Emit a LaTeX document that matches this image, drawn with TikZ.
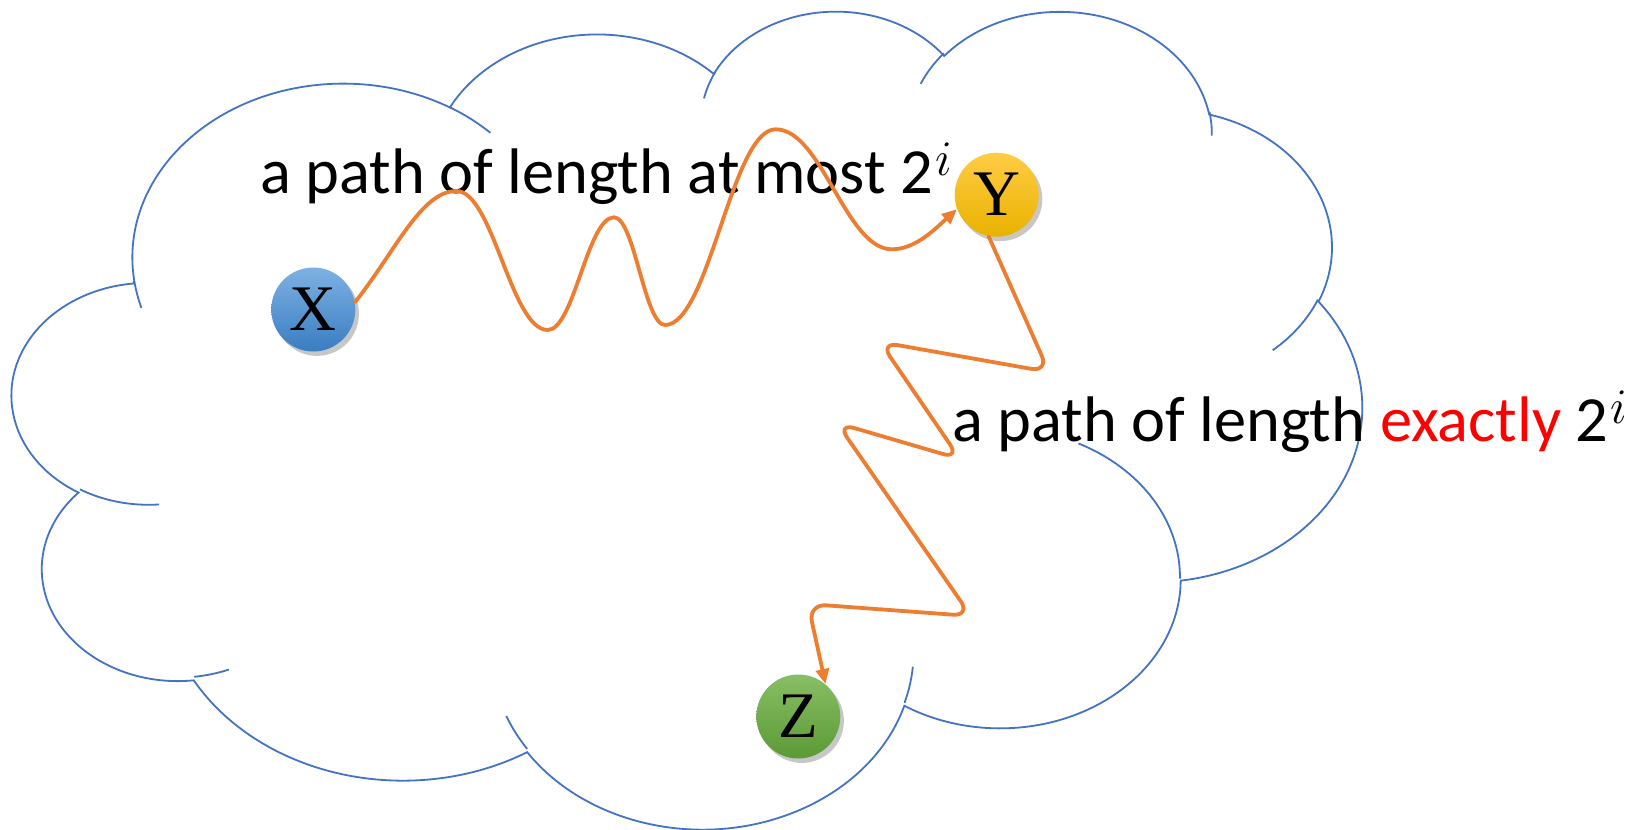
\documentclass[tikz,border=0pt]{standalone}
\usepackage{fontspec}
\setmainfont{Carlito}
\newfontfamily\serifletter{Liberation Serif}
\usetikzlibrary{arrows.meta,shadows}
\definecolor{cloudblue}{HTML}{4472C4}
\definecolor{pathorange}{HTML}{ED7D31}
\definecolor{xtop}{HTML}{7DB1E3}
\definecolor{xbot}{HTML}{3A7DC2}
\definecolor{ytop}{HTML}{FFCC44}
\definecolor{ybot}{HTML}{E9B200}
\definecolor{ztop}{HTML}{88BE66}
\definecolor{zbot}{HTML}{5C9A35}
% OOXML arcTo (visual angles) -> parametric start / delta angle
\newcommand\defarc[5]{%
  \pgfmathsetmacro\tmpa{atan2((#2)*sin(#4),(#3)*cos(#4))}%
  \pgfmathsetmacro\tmpb{atan2((#2)*sin((#4)+(#5)),(#3)*cos((#4)+(#5)))}%
  \pgfmathsetmacro\tmpd{mod(\tmpb-\tmpa+720,360)}%
  \expandafter\xdef\csname cst#1\endcsname{\tmpa}%
  \expandafter\xdef\csname cdl#1\endcsname{\tmpd}}
\defarc{A}{675.3}{919.0}{-190.48748}{123.78053}
\defarc{B}{533.3}{726.7}{-144.10238}{89.94523}
\defarc{C}{436.5}{594.5}{-145.80792}{99.72302}
\defarc{D}{485.7}{659.5}{-130.98607}{117.24173}
\defarc{E}{533.3}{727.3}{-78.70888}{109.02692}
\defarc{F}{677.5}{922.0}{-46.26725}{130.269}
\defarc{G}{578.5}{786.7}{0.62502}{114.03333}
\defarc{H}{675.2}{921.5}{22.4516}{115.17255}
\defarc{I}{772.0}{1054.3}{66.24263}{75.71102}
\defarc{J}{436.0}{591.8}{-274.94208}{146.73557}
\defarc{K}{434.5}{594.5}{-246.8285}{152.51885}
% stubs
\defarc{L}{434.5}{594.5}{86.742}{26.4295}
\defarc{M}{436.0}{591.8}{73.61047}{11.44747}
\defarc{N}{675.2}{921.5}{137.62415}{14.0811}
\defarc{O}{675.2}{921.5}{6.45327}{15.99835}
\defarc{P}{578.5}{786.7}{-70.29235}{70.91737}
\defarc{Q}{533.3}{727.3}{30.31803}{27.7515}
\defarc{R}{485.7}{659.5}{-13.74433}{14.85997}
\defarc{S}{485.7}{659.5}{-149.18145}{18.19402}
\defarc{T}{436.5}{594.5}{-163.49427}{17.6881}
\defarc{U}{675.3}{919.0}{-66.70695}{12.31935}
\defarc{V}{675.3}{919.0}{157.65435}{11.85817}
\tikzset{
  cloudline/.style={draw=cloudblue, line width=0.9pt},
  pathline/.style={draw=pathorange, line width=1.9pt, line cap=round, line join=round},
  tipped/.style={-{Triangle[length=7.5pt,width=6.5pt]}},
  ball/.style={circle, minimum size=42pt, inner sep=0pt,
    font={\serifletter\fontsize{32.5}{38}\selectfont},
    drop shadow={shadow xshift=1.8pt, shadow yshift=-2.2pt, opacity=0.22, fill=black}},
  label/.style={anchor=base west, inner sep=0pt, font={\fontsize{32.2}{38}\selectfont}}
}
\newcommand\supi{\kern1pt\raisebox{9pt}{\fontsize{25}{28}\selectfont$i$}}
\begin{document}
\begin{tikzpicture}[x=0.5pt, y=-0.5pt]
\useasboundingbox (0,0) rectangle (1625,829);
\fill[white] (0,0) rectangle (1625,829);
\begin{scope}[shift={(12.5,9)}, x=0.156155pt, y=-0.09464pt]
  \draw[cloudline] (390,1437)
    arc[start angle=\cstA, delta angle=\cdlA, x radius=675.3, y radius=919.0]
    arc[start angle=\cstB, delta angle=\cdlB, x radius=533.3, y radius=726.7]
    arc[start angle=\cstC, delta angle=\cdlC, x radius=436.5, y radius=594.5]
    arc[start angle=\cstD, delta angle=\cdlD, x radius=485.7, y radius=659.5]
    arc[start angle=\cstE, delta angle=\cdlE, x radius=533.3, y radius=727.3]
    arc[start angle=\cstF, delta angle=\cdlF, x radius=677.5, y radius=922.0]
    arc[start angle=\cstG, delta angle=\cdlG, x radius=578.5, y radius=786.7]
    arc[start angle=\cstH, delta angle=\cdlH, x radius=675.2, y radius=921.5]
    arc[start angle=\cstI, delta angle=\cdlI, x radius=772.0, y radius=1054.3]
    arc[start angle=\cstJ, delta angle=\cdlJ, x radius=436.0, y radius=591.8]
    arc[start angle=\cstK, delta angle=\cdlK, x radius=434.5, y radius=594.5]
    -- cycle;
  \draw[cloudline] (469.3,2617.7) arc[start angle=\cstL, delta angle=\cdlL, x radius=434.5, y radius=594.5];
  \draw[cloudline] (692.8,3489.9) arc[start angle=\cstM, delta angle=\cdlM, x radius=436.0, y radius=591.8];
  \draw[cloudline] (1647.8,3909.0) arc[start angle=\cstN, delta angle=\cdlN, x radius=675.2, y radius=921.5];
  \draw[cloudline] (2882.7,3475.1) arc[start angle=\cstO, delta angle=\cdlO, x radius=675.2, y radius=921.5];
  \draw[cloudline] (3412.9,2295.4) arc[start angle=\cstP, delta angle=\cdlP, x radius=578.5, y radius=786.7];
  \draw[cloudline] (4179.8,1535.4) arc[start angle=\cstQ, delta angle=\cdlQ, x radius=533.3, y radius=727.3];
  \draw[cloudline] (3832.4,542.6) arc[start angle=\cstR, delta angle=\cdlR, x radius=485.7, y radius=659.5];
  \draw[cloudline] (2907.8,395.2) arc[start angle=\cstS, delta angle=\cdlS, x radius=485.7, y radius=659.5];
  \draw[cloudline] (2214.1,472.0) arc[start angle=\cstT, delta angle=\cdlT, x radius=436.5, y radius=594.5];
  \draw[cloudline] (1400.0,519.2) arc[start angle=\cstU, delta angle=\cdlU, x radius=675.3, y radius=919.0];
  \draw[cloudline] (412.7,1578.9) arc[start angle=\cstV, delta angle=\cdlV, x radius=675.3, y radius=919.0];
\end{scope}
\node[label] (t1) at (260,193.3) {a path of length at most 2\supi};
\node[label] (t2) at (952,441.7) {a path of length \textcolor{red}{exactly} 2\supi};
\node[ball, top color=xtop, bottom color=xbot] (X) at (313.3,309.5) {X};
\node[ball, top color=ytop, bottom color=ybot] (Y) at (996.7,194.7) {Y};
\node[ball, top color=ztop, bottom color=zbot] (Z) at (798.3,716.5) {Z};
\draw[pathline, tipped] (X.10)
  .. controls (395,252) and (421,191) .. (456.4,191)
  .. controls (493,191) and (511,330) .. (547.7,330)
  .. controls (574,330) and (587.5,217.3) .. (614,217.3)
  .. controls (634.4,217.3) and (644.6,325) .. (665,325)
  .. controls (709,325) and (731.7,129.3) .. (775.7,129.3)
  .. controls (821.7,129.3) and (845.8,249.3) .. (891.8,249.3)
  .. controls (915,249.3) and (934,230) .. (Y.200);
\draw[pathline, tipped, rounded corners=9pt] (Y.259) -- (1049,372) -- (880,342)
  -- (960,459) -- (837,423) -- (971,616) -- (808,604) -- (Z.50);
\end{tikzpicture}
\end{document}
